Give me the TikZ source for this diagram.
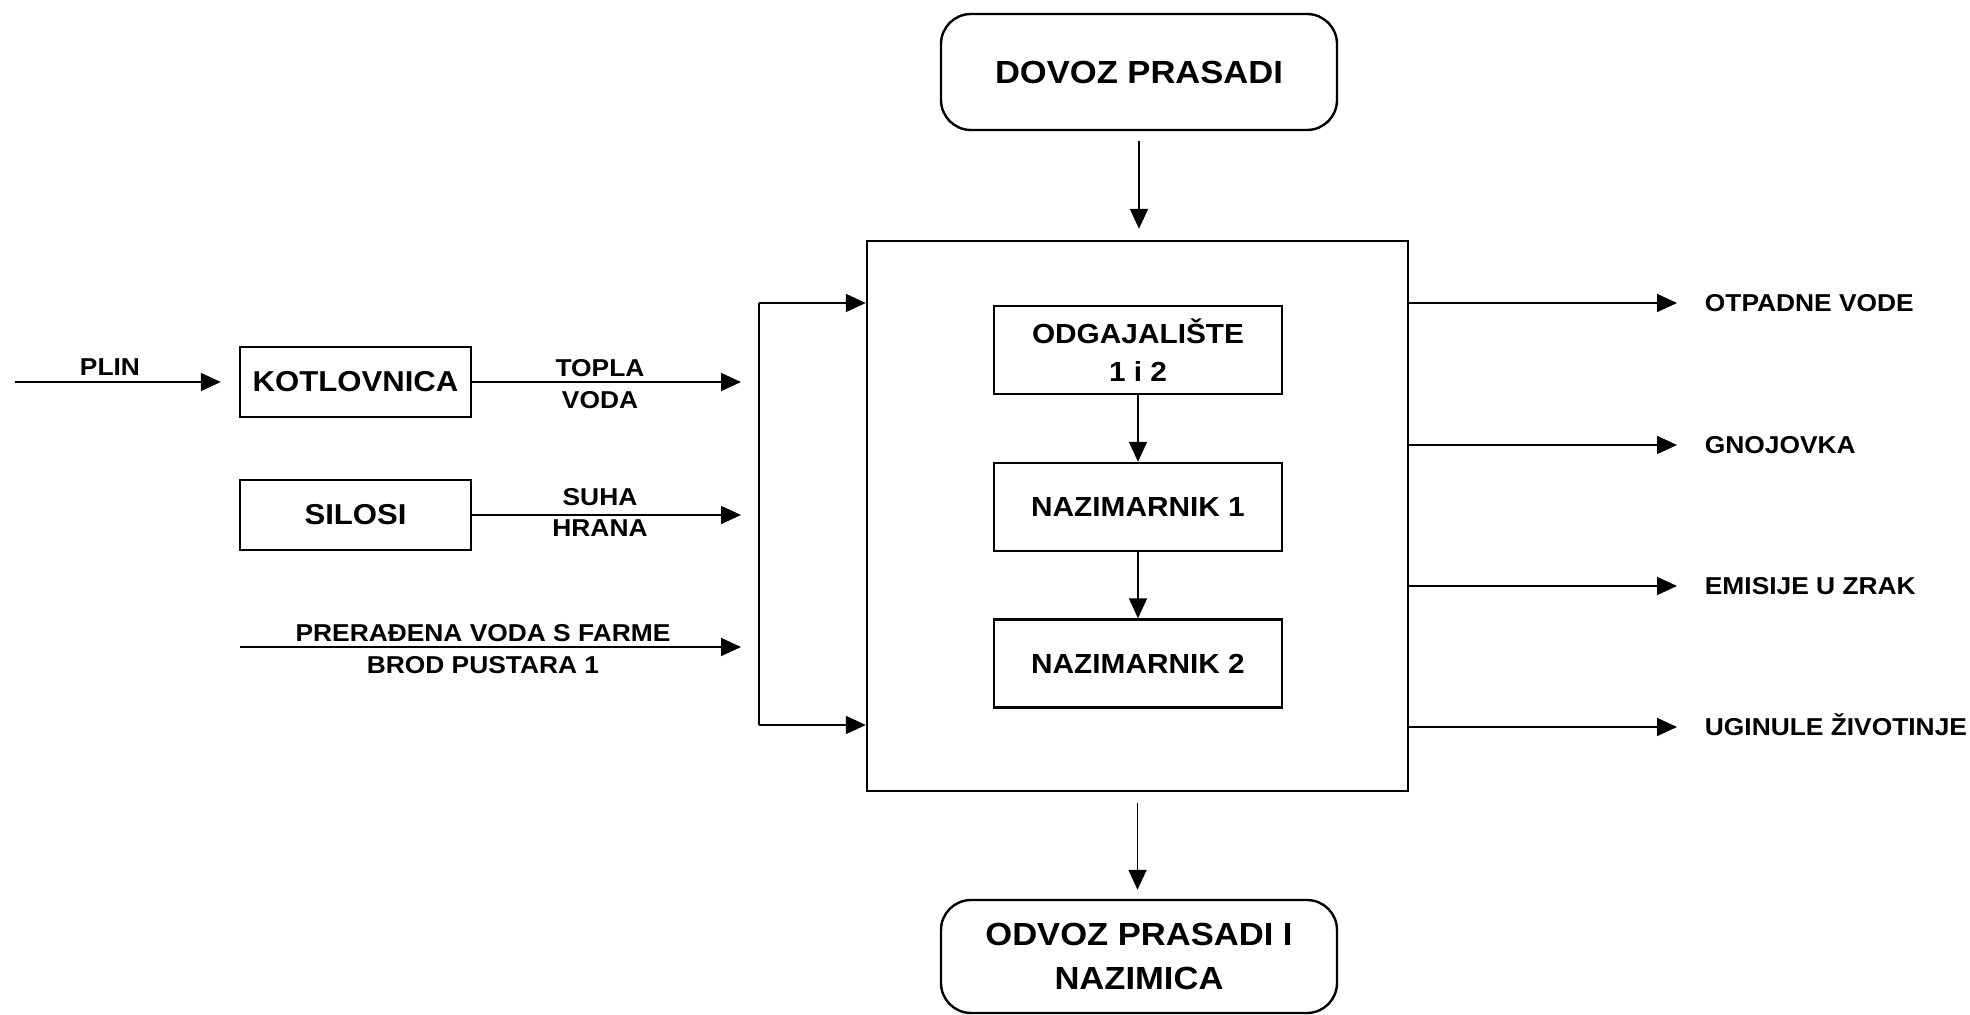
\documentclass[tikz,border=0pt]{standalone}
\usepackage{fontspec}
\setmainfont{Liberation Sans}[FakeStretch=1.08]
\usetikzlibrary{arrows.meta}

\begin{document}
\begin{tikzpicture}[x=0.5pt,y=0.5pt,yscale=-1,xscale=1,
  box/.style={draw, line width=1.2pt, inner sep=0pt},
  endbox/.style={box, rounded corners=15pt, minimum width=198pt, align=center, font=\bfseries\fontsize{16}{22}\selectfont},
  stepbox/.style={box, minimum width=144pt, minimum height=44pt, align=center, font=\bfseries\fontsize{13.8}{19}\selectfont},
  srcbox/.style={box, minimum width=115.5pt, minimum height=35pt, font=\bfseries\fontsize{14.4}{17}\selectfont},
  lbl/.style={inner sep=0.75pt, text height=8.7pt, text depth=0pt, font=\bfseries\fontsize{12.2}{14}\selectfont},
  flow/.style={line width=0.9pt, -{Triangle[length=10pt,width=9pt]}}]
  \useasboundingbox (0,0) rectangle (1970,1015);

  %Shape: Rounded Rect
  \node [endbox, minimum height=58pt] (dovoz) at (1139,72) {DOVOZ PRASADI};
  \node [endbox, minimum height=56.5pt] (odvoz) at (1139,956.5) {ODVOZ PRASADI I\\NAZIMICA};
  %Shape: Rectangle
  \node [box, minimum width=270.5pt, minimum height=275pt] (farma) at (1137.5,516) {};
  \node [stepbox] (odg) at (1138,350) {ODGAJALIŠTE\\1 i 2};
  \node [stepbox] (naz1) at (1138,507) {NAZIMARNIK 1};
  \node [stepbox] (naz2) at (1138,663.5) {NAZIMARNIK 2};
  \node [srcbox] (kotl) at (355.5,382) {KOTLOVNICA};
  \node [srcbox] (silosi) at (355.5,515) {SILOSI};

  \coordinate (plin) at (15,382);
  \coordinate (voda) at (240,647);
  \coordinate (j1) at (759,382);
  \coordinate (j2) at (759,515);
  \coordinate (j3) at (759,647);
  \coordinate (jt) at (759,303);
  \coordinate (jb) at (759,725);
  \coordinate (otp) at (1677,303);
  \coordinate (gnoj) at (1677,445);
  \coordinate (emis) at (1677,586);
  \coordinate (ugin) at (1677,727);

  %Straight Lines
  \draw [flow, shorten >=9pt] (plin) -- (kotl);
  \draw [flow, shorten >=9pt] (kotl) -- (j1);
  \draw [flow, shorten >=9pt] (silosi) -- (j2);
  \draw [flow, shorten >=9pt] (voda) -- (j3);
  \draw [line width=0.9pt] (jt) -- (jb);
  \draw [flow] (jt) -- (jt -| farma.west);
  \draw [flow] (jb) -- (jb -| farma.west);
  \draw [flow, shorten <=5pt, shorten >=5.5pt] (dovoz.south) -- (dovoz.south |- farma.north);
  \draw [flow, shorten <=5.5pt, shorten >=4.5pt] (farma.south) -- (farma.south |- odvoz.north);
  \draw [flow] (odg) -- (naz1);
  \draw [flow] (naz1) -- (naz2);
  \draw [flow] (otp -| farma.east) -- (otp);
  \draw [flow] (gnoj -| farma.east) -- (gnoj);
  \draw [flow] (emis -| farma.east) -- (emis);
  \draw [flow] (ugin -| farma.east) -- (ugin);

  % Text Node
  \node [lbl] (lplin) at (110,367) {PLIN};
  \node [lbl] (ltopla) at (600,368) {TOPLA};
  \node [lbl] (lvoda) at (600,400) {VODA};
  \node [lbl] (lsuha) at (600,497) {SUHA};
  \node [lbl] (lhrana) at (600,528) {HRANA};
  \node [lbl] (lprer) at (483,633) {PRERAĐENA VODA S FARME};
  \node [lbl] (lbrod) at (483,665) {BROD PUSTARA 1};
  % Text Node
  \node [lbl, anchor=west] (lotp) at (1703,303) {OTPADNE VODE};
  \node [lbl, anchor=west] (lgnoj) at (1703,445) {GNOJOVKA};
  \node [lbl, anchor=west] (lemis) at (1703,586) {EMISIJE U ZRAK};
  \node [lbl, anchor=west] (lugin) at (1703,727) {UGINULE ŽIVOTINJE};

\end{tikzpicture}
\end{document}
